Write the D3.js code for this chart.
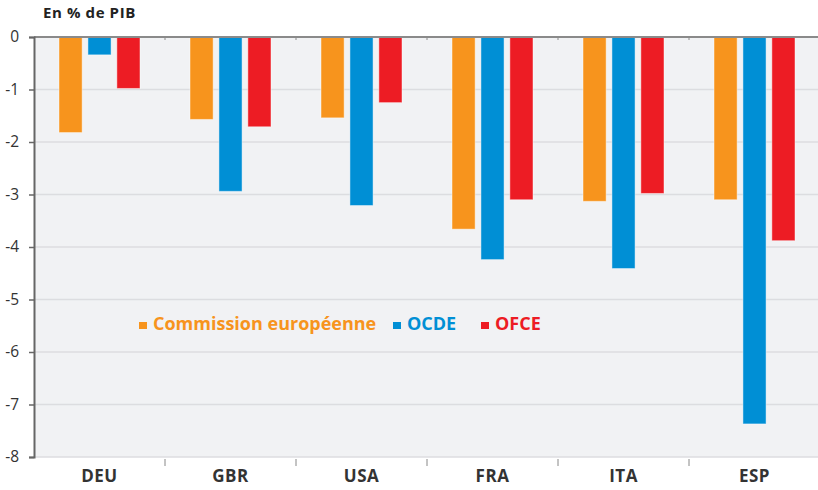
<!DOCTYPE html>
<html><head><meta charset="utf-8">
<script src="https://cdn.jsdelivr.net/npm/d3@7"></script>
<style>body{margin:0;background:#fff}svg{display:block}text{font-family:"Open Sans","Noto Sans",sans-serif}</style>
</head><body><svg id="c" width="818" height="490"></svg>
<script>
const categories = ["DEU","GBR","USA","FRA","ITA","ESP"];
const seriesNames = ["Commission européenne","OCDE","OFCE"];
const commission = [-1.82,-1.57,-1.54,-3.66,-3.13,-3.10];
const ocde = [-0.34,-2.94,-3.21,-4.24,-4.41,-7.37];
const ofce = [-0.98,-1.71,-1.25,-3.10,-2.98,-3.88];
const yTicks = [0,-1,-2,-3,-4,-5,-6,-7,-8];
const colors = ["#f7941d","#008fd5","#ed1c24"];
const series = [commission, ocde, ofce];

const svg = d3.select("#c");
const L = 34, R = 820, T = 37, B = 457;
const x = d3.scaleBand().domain(categories).range([L, R]).paddingInner(0).paddingOuter(0);
const xs = d3.scaleBand().domain(seriesNames).range([25, x.bandwidth()-25]).paddingInner(0.2).paddingOuter(0);
const y = d3.scaleLinear().domain([0,-8]).range([T,B]);

svg.append("rect").attr("x",L).attr("y",T).attr("width",818-L).attr("height",B-T).attr("fill","#f1f2f4");

// gridlines
svg.append("g").selectAll("line").data(yTicks.filter(d=>d!==0)).join("line")
  .attr("x1",L).attr("x2",818).attr("y1",d=>y(d)).attr("y2",d=>y(d))
  .attr("stroke","#dcdde0").attr("stroke-width",1.5);

// bars
seriesNames.forEach((s,i)=>{
  svg.append("g").selectAll("rect").data(categories).join("rect")
    .attr("x",c=>x(c)+xs(s)).attr("width",xs.bandwidth())
    .attr("y",y(0)).attr("height",(c,j)=>y(series[i][j])-y(0))
    .attr("fill",colors[i]).attr("stroke","#fff").attr("stroke-opacity",0.45).attr("stroke-width",1);
});

// zero line
svg.append("line").attr("x1",L).attr("x2",818).attr("y1",y(0)).attr("y2",y(0)).attr("stroke","#8a8a8a").attr("stroke-width",2);
svg.append("g").selectAll("line").data(categories.slice(1)).join("line")
  .attr("x1",c=>x(c)).attr("x2",c=>x(c)).attr("y1",y(0)-1).attr("y2",y(0)+3).attr("stroke","#8a8a8a").attr("stroke-width",1);

// y axis
const ya = svg.append("g").attr("transform",`translate(${L},0)`)
  .call(d3.axisLeft(y).tickValues(yTicks).tickSize(5).tickPadding(10).tickFormat(d=>String(d)));
ya.select(".domain").attr("stroke","#666").attr("stroke-width",2);
ya.selectAll(".tick line").attr("stroke","#666").attr("stroke-width",1.5);
ya.selectAll("text").attr("font-size",15.5).attr("fill","#333").attr("font-family","'Open Sans',sans-serif");

// x axis
const xa = svg.append("g").attr("transform",`translate(0,${B})`)
  .call(d3.axisBottom(x).tickSize(0).tickPadding(13));
xa.select(".domain").remove();
xa.selectAll("text").attr("font-size",17).attr("font-weight","bold").attr("fill","#333")
  .attr("letter-spacing",0.5).attr("font-family","'Open Sans',sans-serif");
svg.append("g").selectAll("line").data(categories.slice(1)).join("line")
  .attr("x1",c=>x(c)).attr("x2",c=>x(c)).attr("y1",B+2).attr("y2",B+9).attr("stroke","#888").attr("stroke-width",1);

// title
svg.append("text").attr("x",43).attr("y",18).attr("font-size",15).attr("font-weight","bold")
  .attr("letter-spacing",0.6).attr("fill","#222").text("En % de PIB");

// legend
const legX = [139,393,481];
seriesNames.forEach((s,i)=>{
  svg.append("rect").attr("x",legX[i]).attr("y",322).attr("width",8).attr("height",7).attr("fill",colors[i]);
  svg.append("text").attr("x",legX[i]+14).attr("y",329.5).attr("font-size",18).attr("font-weight","bold")
    .attr("fill",colors[i]).text(s);
});
</script></body></html>
